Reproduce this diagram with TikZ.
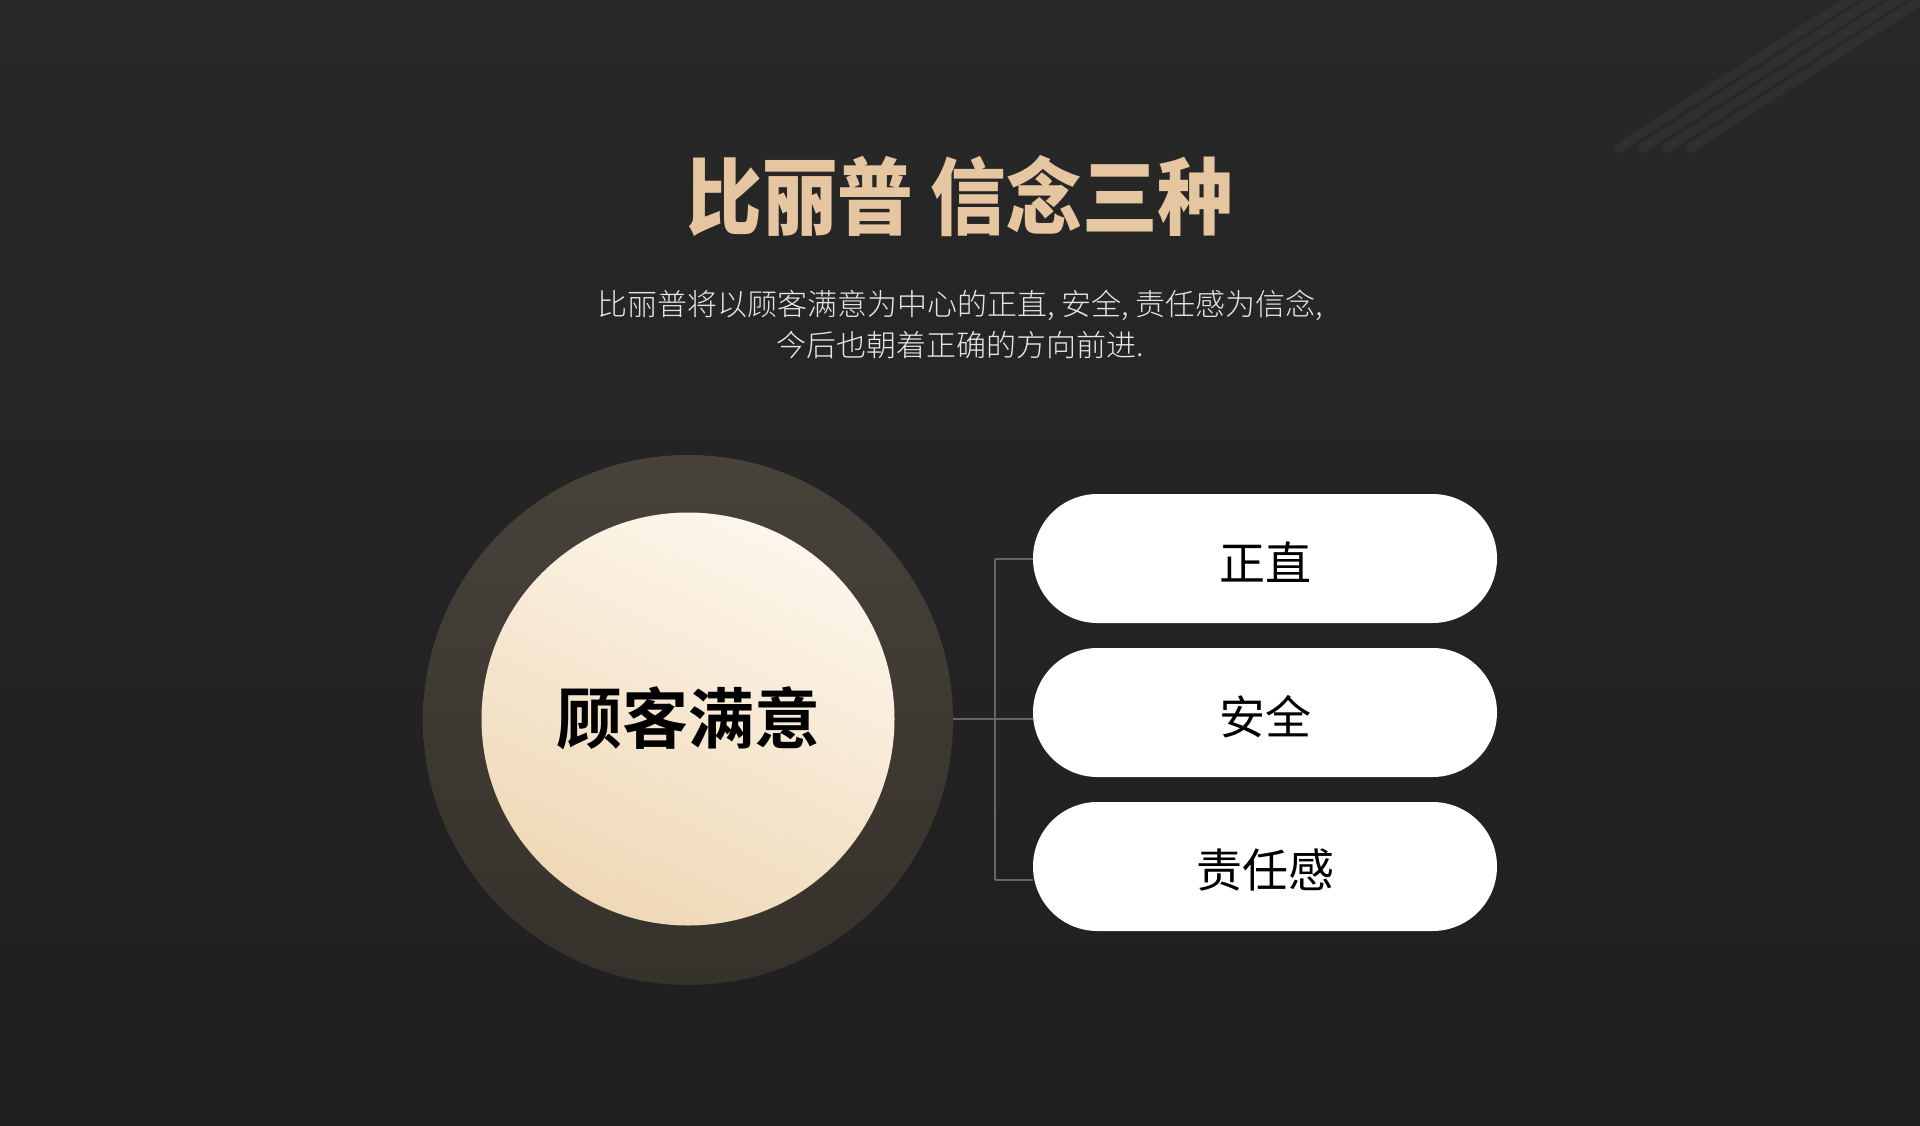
\documentclass[tikz,border=0pt]{standalone}
\usepackage{fontspec}
\setmainfont{Noto Sans CJK SC}
\newfontfamily\cjk{Noto Sans CJK SC}
\newfontfamily\cjkheavy[FakeStretch=0.9]{Noto Sans CJK SC Black}
\newfontfamily\cjkbold{Noto Sans CJK SC Bold}
\newfontfamily\cjklight{Noto Sans CJK SC Light}
\usetikzlibrary{positioning}
\definecolor{bgtop}{HTML}{282828}
\definecolor{bgbot}{HTML}{1F1F1F}
\definecolor{titlegold}{HTML}{E6C6A0}
\definecolor{subgrey}{HTML}{E6E6E6}
\definecolor{ringtop}{HTML}{47433B}
\definecolor{ringbot}{HTML}{35312B}
\definecolor{coretop}{HTML}{FDF6EC}
\definecolor{corebot}{HTML}{EFD8B6}
\definecolor{linkgrey}{HTML}{666666}
\tikzset{
  pill/.style={draw=none, fill=white, rounded corners=64.5pt,
    minimum width=464pt, minimum height=129pt, inner sep=0pt},
  pilltext/.style={font=\cjk\fontsize{46}{50}\selectfont, text=black, inner sep=0pt},
  link/.style={draw=linkgrey, line width=1.5pt},
  stripe/.style={line width=9pt, draw=white, draw opacity=0.04}
}
\begin{document}
\begin{tikzpicture}[x=1pt,y=-1pt]
\useasboundingbox (0,0) rectangle (1920,1125);
\fill[top color=bgtop, bottom color=bgbot] (0,0) rectangle (1920,1125);
\begin{scope}
\clip (0,0) rectangle (1920,1125);
\foreach \i in {0,1,2,3} {
  \draw[stripe] (1865+24*\i,-10) -- ++(-250,160);
}
\end{scope}

% title and subtitle
\node (title) at (960,196) {\cjkheavy\fontsize{84}{88}\selectfont\color{titlegold}比丽普 信念三种};
\node[align=center, text=subgrey, font=\cjklight\fontsize{30}{41}\selectfont] (sub) at (960,324)
  {比丽普将以顾客满意为中心的正直, 安全, 责任感为信念,\\今后也朝着正确的方向前进.};

% central circles
\node[circle, minimum size=530pt, inner sep=0pt, top color=ringtop, bottom color=ringbot] (ring) at (688,720) {};
\node[circle, minimum size=413pt, inner sep=0pt, shading=axis, top color=coretop, bottom color=corebot, shading angle=-25] (core) at (688,719) {};
\node[font=\cjkbold\fontsize{66}{70}\selectfont, text=black] (coretext) at (688,718) {顾客满意};

% pills
\node[pill] (p1) at (1265,558.5) {};
\node[pill] (p2) at (1265,712.5) {};
\node[pill] (p3) at (1265,866.5) {};
\node[pilltext] (t1) at ([yshift=-4pt]p1.center) {正直};
\node[pilltext] (t2) at ([yshift=-4pt]p2.center) {安全};
\node[pilltext] (t3) at ([yshift=-4pt]p3.center) {责任感};

% connectors
\coordinate (j1) at (995,559);
\coordinate (j2) at (995,719);
\coordinate (j3) at (995,880);
\draw[link] (j1) -- (j3);
\draw[link] (ring.east |- j2) -- (j2) -- (p2.west |- j2);
\draw[link] (j1) -- (p1.west |- j1);
\draw[link] (j3) -- (p3.west |- j3);
\end{tikzpicture}
\end{document}
